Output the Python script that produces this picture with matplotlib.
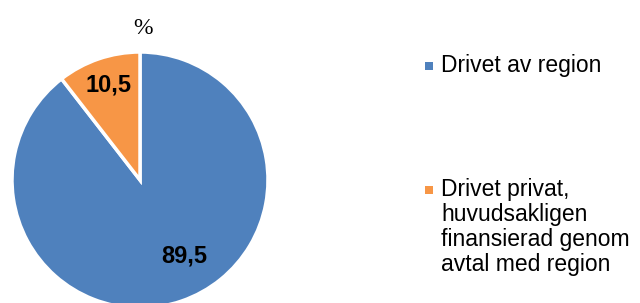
import matplotlib.pyplot as plt
from matplotlib.patches import Rectangle
import numpy as np

# data
labels = ["Drivet av region",
          "Drivet privat,\nhuvudsakligen\nfinansierad genom\navtal med region"]
values = [89.5, 10.5]
colors = ["#4F81BD", "#F79646"]
title = "%"

W, H = 640, 303
fig = plt.figure(figsize=(W / 100, H / 100), dpi=100)

# pie centre (140, 180) px, radius 128 px
cx, cy, r = 140, 180, 128
ax = fig.add_axes([(cx - r) / W, (H - cy - r) / H, 2 * r / W, 2 * r / H])
wedges, _ = ax.pie(values, colors=colors, startangle=90, counterclock=False,
                   radius=1.0,
                   wedgeprops=dict(edgecolor="white", linewidth=2.5))
for w in wedges:
    w.set_clip_on(False)
ax.set_xlim(-1, 1)
ax.set_ylim(-1, 1)
ax.set_aspect("equal")

# value labels (Excel-like placement: angle / distance per label)
label_pos = [(-59.9, 0.686), (108.2, 0.78)]
for v, (ang, dist) in zip(values, label_pos):
    a = np.deg2rad(ang)
    ax.text(dist * np.cos(a), dist * np.sin(a), f"{v:.1f}".replace(".", ","),
            ha="center", va="center", fontsize=17, fontweight="bold",
            family="Liberation Sans", color="black")

fig.text(143 / W, 1 - 28 / H, title, ha="center", va="center",
         fontsize=17, family="Liberation Serif")

# legend
leg_y = [66, 190]
for lab, col, y in zip(labels, colors, leg_y):
    fig.patches.append(Rectangle((425 / W, 1 - (y + 4) / H), 8 / W, 8 / H,
                                 transform=fig.transFigure, facecolor=col,
                                 edgecolor="none"))
    fig.text(441 / W, 1 - (y - 12) / H, lab, ha="left", va="top",
             fontsize=16.5, family="Liberation Sans", linespacing=1.12)

fig.savefig("out.png", dpi=100, facecolor="white")
